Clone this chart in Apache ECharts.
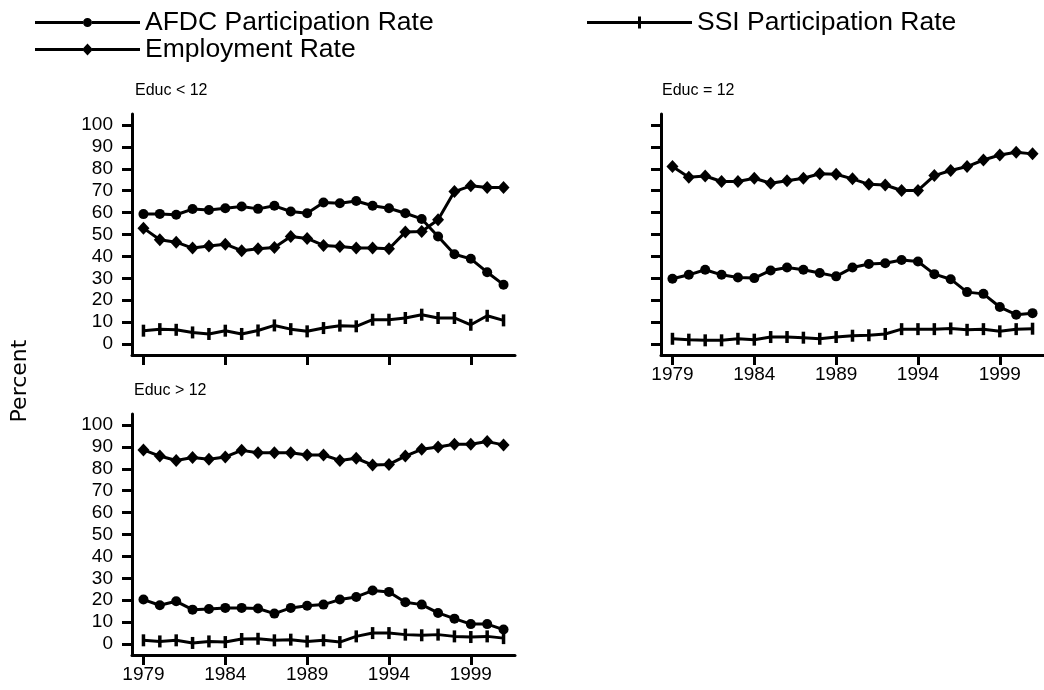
<!DOCTYPE html>
<html>
<head>
<meta charset="utf-8">
<script src="https://cdn.jsdelivr.net/npm/echarts@6/dist/echarts.min.js"></script>
<style>
  html, body { margin: 0; padding: 0; background: #fff; }
  #chart { width: 1044px; height: 690px; }
</style>
</head>
<body>
<div id="chart"></div>
<script>
// Survey years and axis ticks
const years = [1979, 1980, 1981, 1982, 1983, 1984, 1985, 1986, 1987, 1988, 1989, 1990,
               1991, 1992, 1993, 1994, 1995, 1996, 1997, 1998, 1999, 2000, 2001];
const yearTicks = [1979, 1984, 1989, 1994, 1999];
const percentTicks = [0, 10, 20, 30, 40, 50, 60, 70, 80, 90, 100];
const panelTitles = ['Educ < 12', 'Educ = 12', 'Educ > 12'];
const seriesNames = ['AFDC Participation Rate', 'SSI Participation Rate', 'Employment Rate'];

// Educ < 12
const afdcLt12 = [59.3, 59.4, 59.0, 61.6, 61.2, 62.0, 62.8, 61.7, 63.1, 60.5, 59.7, 64.6,
                  64.3, 65.3, 63.1, 62.0, 59.7, 57.1, 49.1, 41.0, 38.9, 32.8, 27.1];
const ssiLt12  = [6.1, 6.8, 6.5, 5.3, 4.6, 6.1, 4.6, 6.2, 8.5, 6.8, 5.8, 7.3,
                  8.4, 8.1, 11.1, 11.1, 11.9, 13.4, 11.9, 11.9, 8.8, 12.9, 10.8];
const empLt12  = [52.9, 47.6, 46.5, 43.8, 44.8, 45.6, 42.6, 43.5, 44.1, 49.1, 48.2, 45.0,
                  44.5, 43.8, 43.8, 43.5, 51.1, 51.4, 56.7, 69.6, 72.2, 71.4, 71.4];

// Educ = 12
const afdcEq12 = [29.8, 31.6, 33.9, 31.6, 30.4, 30.1, 33.6, 34.9, 33.9, 32.4, 30.9, 34.9,
                  36.5, 36.9, 38.4, 37.7, 31.9, 29.6, 23.7, 22.9, 16.9, 13.4, 14.1];
const ssiEq12  = [2.4, 2.0, 1.7, 1.7, 2.4, 2.0, 3.2, 3.2, 2.9, 2.4, 3.2, 3.8,
                  4.0, 4.6, 6.8, 6.8, 6.8, 7.1, 6.5, 6.8, 5.8, 6.8, 7.0];
const empEq12  = [81.0, 76.1, 76.7, 74.2, 74.2, 75.7, 73.4, 74.5, 75.7, 77.7, 77.5, 75.4,
                  72.9, 72.6, 70.1, 70.1, 76.9, 79.2, 81.0, 84.0, 86.3, 87.5, 86.8];

// Educ > 12
const afdcGt12 = [20.3, 17.7, 19.5, 15.7, 16.0, 16.5, 16.5, 16.2, 13.9, 16.5, 17.5, 18.0,
                  20.3, 21.5, 24.4, 23.8, 19.1, 18.0, 14.2, 11.6, 9.1, 9.1, 6.6];
const ssiGt12  = [1.7, 1.2, 1.7, 0.5, 1.2, 0.9, 2.3, 2.4, 1.7, 2.0, 1.2, 1.7,
                  0.9, 3.5, 5.0, 5.0, 4.3, 4.0, 4.3, 3.5, 3.2, 3.5, 2.7];
const empGt12  = [88.6, 85.8, 83.8, 85.1, 84.3, 85.4, 88.4, 87.3, 87.3, 87.3, 86.3, 86.3,
                  83.8, 84.8, 81.7, 82.0, 85.8, 88.9, 89.9, 91.2, 91.2, 92.4, 90.9];

const panels = [
  { afdc: afdcLt12, ssi: ssiLt12, emp: empLt12 },
  { afdc: afdcEq12, ssi: ssiEq12, emp: empEq12 },
  { afdc: afdcGt12, ssi: ssiGt12, emp: empGt12 }
];

const FONT = '"Liberation Sans", Arial, sans-serif';
const INK = '#000';

// panel placement (pixels)
const gridBoxes = [
  { left: 132, top: 114, width: 383, height: 241 },
  { left: 661, top: 114, width: 383, height: 241 },
  { left: 132, top: 414, width: 383, height: 241 }
];
const showYearLabels = [false, true, true];
const showPercentLabels = [true, false, true];

// marker style per measure
const markers = {
  afdc: { symbol: 'circle', symbolSize: 10 },
  ssi:  { symbol: 'rect', symbolSize: [3.5, 12] },
  emp:  { symbol: 'diamond', symbolSize: [12, 13] }
};

// legend keys: a line with the marker in the middle
const afdcIcon = 'path://M0,4.5H48V7.5H0Z M57,4.5H105V7.5H57Z M48,6a4.5,4.5 0 1,0 9,0a4.5,4.5 0 1,0 -9,0Z';
const empIcon  = 'path://M0,4.5H48V7.5H0Z M57,4.5H105V7.5H57Z M52.5,0L58,6L52.5,12L47,6Z';
const ssiIcon  = 'path://M0,4.5H51V7.5H0Z M54,4.5H105V7.5H54Z M51,0H54V12H51Z';

const pairs = vals => years.map((y, i) => [y, vals[i]]);

const xAxes = gridBoxes.map((g, i) => ({
  type: 'value', gridIndex: i, min: 1978.3, max: 2001.7,
  splitLine: { show: false },
  axisLine: { show: true, onZero: false, lineStyle: { color: INK, width: 3 } },
  axisTick: { show: true, customValues: yearTicks, length: 10, lineStyle: { color: INK, width: 3 } },
  axisLabel: { show: showYearLabels[i], customValues: yearTicks, color: INK,
               fontSize: 19, fontFamily: FONT, margin: 10,
               formatter: v => String(Math.round(v)) }
}));

const yAxes = gridBoxes.map((g, i) => ({
  type: 'value', gridIndex: i, min: -5, max: 105,
  splitLine: { show: false },
  axisLine: { show: true, onZero: false, lineStyle: { color: INK, width: 3 } },
  axisTick: { show: true, customValues: percentTicks, length: 10, lineStyle: { color: INK, width: 3 } },
  axisLabel: { show: showPercentLabels[i], customValues: percentTicks, color: INK,
               fontSize: 19, fontFamily: FONT, margin: 19 }
}));

const series = [];
panels.forEach((p, i) => {
  [['afdc', seriesNames[0]], ['ssi', seriesNames[1]], ['emp', seriesNames[2]]].forEach(([key, name]) => {
    series.push({
      type: 'line', name: name, xAxisIndex: i, yAxisIndex: i,
      data: pairs(p[key]),
      symbol: markers[key].symbol, symbolSize: markers[key].symbolSize,
      showAllSymbol: true,
      color: INK,
      itemStyle: { color: INK },
      lineStyle: { color: INK, width: 3 },
      emphasis: { disabled: true },
      silent: true
    });
  });
});

const titlePos = [{ left: 135, top: 83 }, { left: 662, top: 83 }, { left: 134, top: 383 }];

const option = {
  animation: false,
  backgroundColor: '#fff',
  title: panelTitles.map((t, i) => ({
    text: t, left: titlePos[i].left, top: titlePos[i].top, padding: 0,
    textStyle: { fontSize: 16, fontWeight: 'normal', color: INK, fontFamily: FONT }
  })),
  legend: [
    {
      left: 35, top: 9, padding: 0, orient: 'vertical', itemGap: 0,
      itemWidth: 105, itemHeight: 12, selectedMode: false,
      textStyle: { fontSize: 26.5, lineHeight: 25, color: INK, fontFamily: FONT },
      data: [{ name: seriesNames[0], icon: afdcIcon }, { name: seriesNames[2], icon: empIcon }]
    },
    {
      left: 587, top: 9, padding: 0, orient: 'vertical', itemGap: 0,
      itemWidth: 105, itemHeight: 12, selectedMode: false,
      textStyle: { fontSize: 26.5, lineHeight: 25, color: INK, fontFamily: FONT },
      data: [{ name: seriesNames[1], icon: ssiIcon }]
    }
  ],
  grid: gridBoxes,
  xAxis: xAxes,
  yAxis: yAxes,
  series: series,
  graphic: [{
    type: 'text', x: 20, y: 381, rotation: Math.PI / 2,
    style: { text: 'Percent', fill: INK, fontSize: 22, fontFamily: '"DejaVu Sans", sans-serif',
             align: 'center', verticalAlign: 'middle' }
  }]
};

const chart = echarts.init(document.getElementById('chart'), null, { renderer: 'canvas' });
chart.setOption(option);
</script>
</body>
</html>
